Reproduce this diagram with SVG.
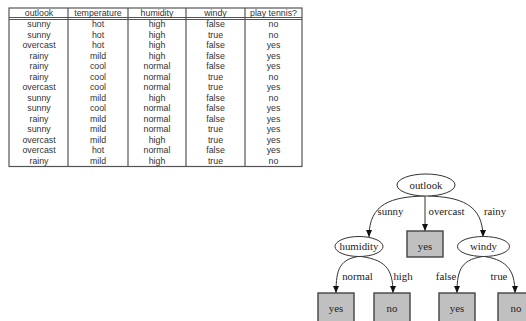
<svg xmlns="http://www.w3.org/2000/svg" width="526" height="321" viewBox="0 0 526 321">
<style>
.t{font-family:"Liberation Sans",Arial,sans-serif;font-size:8.8px;fill:#333;text-anchor:middle}
.g{stroke:#555;stroke-width:1.2;fill:none}
.n{font-family:"Liberation Serif","Times New Roman",serif;font-size:10.8px;fill:#222;text-anchor:middle}
.l{font-family:"Liberation Serif","Times New Roman",serif;font-size:10.8px;fill:#222;text-anchor:middle}
.ell{fill:#fff;stroke:#333;stroke-width:1}
.box{fill:#c0c0c0;stroke:#444;stroke-width:1.4}
.e{fill:none;stroke:#333;stroke-width:1}
</style>
<defs>
<marker id="ah" markerUnits="userSpaceOnUse" markerWidth="7" markerHeight="6" viewBox="0 0 7 6" refX="7" refY="3" orient="auto">
<path d="M0,0 L7,3 L0,6 z" fill="#111"/>
</marker>
</defs>
<rect width="526" height="321" fill="#fff"/>
<g id="table">
<rect class="g" x="9" y="8" width="293" height="158.5"/>
<line class="g" x1="9" y1="17.5" x2="302" y2="17.5"/>
<line class="g" x1="9" y1="19.5" x2="302" y2="19.5"/>
<line class="g" x1="68" y1="8" x2="68" y2="166.5"/>
<line class="g" x1="128" y1="8" x2="128" y2="166.5"/>
<line class="g" x1="186" y1="8" x2="186" y2="166.5"/>
<line class="g" x1="245" y1="8" x2="245" y2="166.5"/>
<g class="t">
<text x="39" y="15.8">outlook</text><text x="98" y="15.8">temperature</text><text x="157" y="15.8">humidity</text><text x="215.5" y="15.8">windy</text><text x="273.5" y="15.8">play tennis?</text>
<text x="39" y="27.3">sunny</text><text x="98" y="27.3">hot</text><text x="157" y="27.3">high</text><text x="215.5" y="27.3">false</text><text x="273.5" y="27.3">no</text>
<text x="39" y="37.8">sunny</text><text x="98" y="37.8">hot</text><text x="157" y="37.8">high</text><text x="215.5" y="37.8">true</text><text x="273.5" y="37.8">no</text>
<text x="39" y="48.3">overcast</text><text x="98" y="48.3">hot</text><text x="157" y="48.3">high</text><text x="215.5" y="48.3">false</text><text x="273.5" y="48.3">yes</text>
<text x="39" y="58.8">rainy</text><text x="98" y="58.8">mild</text><text x="157" y="58.8">high</text><text x="215.5" y="58.8">false</text><text x="273.5" y="58.8">yes</text>
<text x="39" y="69.3">rainy</text><text x="98" y="69.3">cool</text><text x="157" y="69.3">normal</text><text x="215.5" y="69.3">false</text><text x="273.5" y="69.3">yes</text>
<text x="39" y="79.8">rainy</text><text x="98" y="79.8">cool</text><text x="157" y="79.8">normal</text><text x="215.5" y="79.8">true</text><text x="273.5" y="79.8">no</text>
<text x="39" y="90.3">overcast</text><text x="98" y="90.3">cool</text><text x="157" y="90.3">normal</text><text x="215.5" y="90.3">true</text><text x="273.5" y="90.3">yes</text>
<text x="39" y="100.8">sunny</text><text x="98" y="100.8">mild</text><text x="157" y="100.8">high</text><text x="215.5" y="100.8">false</text><text x="273.5" y="100.8">no</text>
<text x="39" y="111.3">sunny</text><text x="98" y="111.3">cool</text><text x="157" y="111.3">normal</text><text x="215.5" y="111.3">false</text><text x="273.5" y="111.3">yes</text>
<text x="39" y="121.8">rainy</text><text x="98" y="121.8">mild</text><text x="157" y="121.8">normal</text><text x="215.5" y="121.8">false</text><text x="273.5" y="121.8">yes</text>
<text x="39" y="132.3">sunny</text><text x="98" y="132.3">mild</text><text x="157" y="132.3">normal</text><text x="215.5" y="132.3">true</text><text x="273.5" y="132.3">yes</text>
<text x="39" y="142.8">overcast</text><text x="98" y="142.8">mild</text><text x="157" y="142.8">high</text><text x="215.5" y="142.8">true</text><text x="273.5" y="142.8">yes</text>
<text x="39" y="153.3">overcast</text><text x="98" y="153.3">hot</text><text x="157" y="153.3">normal</text><text x="215.5" y="153.3">false</text><text x="273.5" y="153.3">yes</text>
<text x="39" y="163.6">rainy</text><text x="98" y="163.6">mild</text><text x="157" y="163.6">high</text><text x="215.5" y="163.6">true</text><text x="273.5" y="163.6">no</text>
</g>
</g>
<g id="connectors">
<path class="e" marker-end="url(#ah)" d="M424,196 C392,197 369,203 369,237"/>
<path class="e" marker-end="url(#ah)" d="M425,196 L425,231"/>
<path class="e" marker-end="url(#ah)" d="M428,196 C460,197 483,204 483,237"/>
<path class="e" marker-end="url(#ah)" d="M361,256 C340,259 336,268 336,293"/>
<path class="e" marker-end="url(#ah)" d="M357,256 C385,259 393,268 393,293"/>
<path class="e" marker-end="url(#ah)" d="M486,256 C462,259 457,268 457,293"/>
<path class="e" marker-end="url(#ah)" d="M481,256 C505,259 515,268 515,293"/>
<g class="l">
<text x="390.5" y="215">sunny</text>
<text x="446.5" y="215">overcast</text>
<text x="495" y="215">rainy</text>
<text x="357.5" y="280">normal</text>
<text x="403" y="280">high</text>
<text x="446" y="280">false</text>
<text x="499" y="280">true</text>
</g>
</g>
<g id="outlook"><ellipse class="ell" cx="426" cy="185" rx="29" ry="11"/><text class="n" x="426" y="188.5">outlook</text></g>
<g id="humidity"><ellipse class="ell" cx="359" cy="246.5" rx="24" ry="10"/><text class="n" x="359" y="250">humidity</text></g>
<g id="windy"><ellipse class="ell" cx="483.5" cy="246.5" rx="26" ry="10"/><text class="n" x="483.5" y="250">windy</text></g>
<g id="yes_overcast"><rect class="box" x="407" y="231" width="36" height="26"/><text class="n" x="425" y="250">yes</text></g>
<g id="yes_normal"><rect class="box" x="318" y="293" width="36" height="30"/><text class="n" x="336" y="312">yes</text></g>
<g id="no_high"><rect class="box" x="374" y="293" width="36" height="30"/><text class="n" x="392" y="312">no</text></g>
<g id="yes_false"><rect class="box" x="439" y="293" width="36" height="30"/><text class="n" x="457" y="312">yes</text></g>
<g id="no_true"><rect class="box" x="498" y="293" width="36" height="30"/><text class="n" x="516" y="312">no</text></g>
</svg>
